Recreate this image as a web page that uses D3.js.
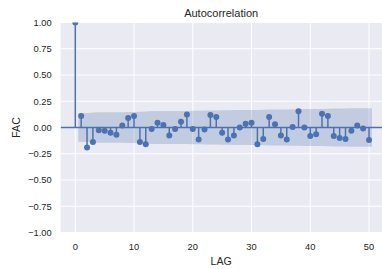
<!DOCTYPE html>
<meta charset="utf-8">
<title>Autocorrelation</title>
<style>
  body { margin: 0; background: #fff; }
  text { font-family: "Liberation Sans", Arial, sans-serif; fill: #262626; }
</style>
<body>
<script src="https://cdn.jsdelivr.net/npm/d3@7"></script>
<script>

// acf values, lag 0..50
var lags = d3.range(0, 51);
var acf = [1.0, 0.11, -0.19, -0.137, -0.025, -0.03, -0.05, -0.07, 0.02, 0.09,
  0.11, -0.137, -0.16, -0.015, 0.045, 0.025, -0.075, -0.015, 0.055, 0.125,
  -0.015, -0.115, -0.02, 0.12, 0.10, -0.05, -0.115, -0.075, 0.0, 0.035,
  0.045, -0.16, -0.11, 0.10, 0.03, -0.075, -0.115, 0.005, 0.155, 0.0,
  -0.08, -0.065, 0.13, 0.11, -0.08, -0.1, -0.11, -0.03, 0.02, -0.01, -0.12];

// confidence band half width, lag 1..50
var band = [0.136, 0.138, 0.142, 0.145, 0.145, 0.145, 0.146, 0.146, 0.147, 0.148,
  0.150, 0.153, 0.156, 0.156, 0.156, 0.156, 0.157, 0.157, 0.158, 0.160,
  0.160, 0.161, 0.161, 0.163, 0.165, 0.165, 0.166, 0.167, 0.167, 0.167,
  0.167, 0.169, 0.171, 0.172, 0.172, 0.172, 0.174, 0.174, 0.176, 0.176,
  0.177, 0.177, 0.179, 0.181, 0.181, 0.182, 0.183, 0.183, 0.183, 0.184];

var xTicks = [0, 10, 20, 30, 40, 50];
var yTicks = [-1, -0.75, -0.5, -0.25, 0, 0.25, 0.5, 0.75, 1];

var W = 382, H = 269;
var pl = 60.6, pr = 383.7, pt = 22.5, pb = 232.5;
var blue = '#4c72b0';

var svg = d3.select('body').append('svg').attr('width', W).attr('height', H);

var x = d3.scaleLinear().domain([-2.5, 52.5]).range([pl, pr]);
var y = d3.scaleLinear().domain([-1, 1]).range([pb, pt]);

svg.append('defs').append('clipPath').attr('id', 'clip')
  .append('rect').attr('x', pl).attr('y', pt)
  .attr('width', pr - pl).attr('height', pb - pt);

svg.append('rect').attr('x', pl).attr('y', pt)
  .attr('width', pr - pl).attr('height', pb - pt)
  .attr('fill', '#eaeaf2');

// grid
svg.selectAll('.gx').data(xTicks).enter().append('line')
  .attr('x1', d => x(d)).attr('x2', d => x(d))
  .attr('y1', pt).attr('y2', pb)
  .attr('stroke', '#fff').attr('stroke-width', 1);
svg.selectAll('.gy').data(yTicks).enter().append('line')
  .attr('y1', d => y(d)).attr('y2', d => y(d))
  .attr('x1', pl).attr('x2', pr)
  .attr('stroke', '#fff').attr('stroke-width', 1);

var g = svg.append('g').attr('clip-path', 'url(#clip)');

// band
var bandData = band.map(function(b, i) {
  var l = i + 1;
  if (i == 0) l -= 0.5;
  if (i == band.length - 1) l += 0.5;
  return {lag: l, b: b};
});
g.append('path').datum(bandData)
  .attr('d', d3.area().x(d => x(d.lag)).y0(d => y(-d.b)).y1(d => y(d.b)))
  .attr('fill', blue).attr('fill-opacity', 0.25);

// zero line
g.append('line').attr('x1', pl).attr('x2', pr)
  .attr('y1', y(0)).attr('y2', y(0))
  .attr('stroke', blue).attr('stroke-width', 1.5);

// stems
g.selectAll('.stem').data(lags).enter().append('line')
  .attr('x1', d => x(d)).attr('x2', d => x(d))
  .attr('y1', y(0)).attr('y2', d => y(acf[d]))
  .attr('stroke', blue).attr('stroke-width', 1.5);

g.selectAll('.dot').data(lags).enter().append('circle')
  .attr('cx', d => x(d)).attr('cy', d => y(acf[d]))
  .attr('r', 3).attr('fill', blue);

// tick labels
svg.selectAll('.tx').data(xTicks).enter().append('text')
  .attr('x', d => x(d)).attr('y', 250)
  .attr('text-anchor', 'middle').attr('font-size', 9.3)
  .text(d => d);
svg.selectAll('.ty').data(yTicks).enter().append('text')
  .attr('x', 51.7).attr('y', d => y(d) + 3.3)
  .attr('text-anchor', 'end').attr('font-size', 9.3)
  .text(d => d3.format('.2f')(d).replace('-', '\u2212'));

svg.append('text').attr('x', (pl + pr) / 2 - 1).attr('y', 264.5)
  .attr('text-anchor', 'middle').attr('font-size', 10.6).text('LAG');
svg.append('text').attr('transform', 'translate(19.5,' + y(0) + ') rotate(-90)')
  .attr('text-anchor', 'middle').attr('font-size', 10.6).text('FAC');
svg.append('text').attr('x', (pl + pr) / 2 - 1).attr('y', 16.5)
  .attr('text-anchor', 'middle').attr('font-size', 11).text('Autocorrelation');

</script>
</body>
